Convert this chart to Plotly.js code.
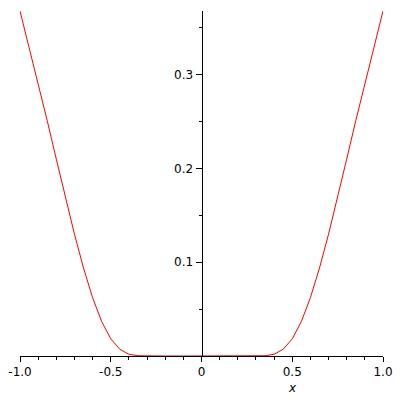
<!DOCTYPE html>
<html><head><meta charset="utf-8">
<script src="https://cdn.plot.ly/plotly-3.0.1.min.js"></script>
<style>html,body{margin:0;padding:0;background:#fff}#c{width:400px;height:400px}</style>
</head><body><div id="c"></div>
<script>
const xs = [-1.0,-0.95,-0.9,-0.85,-0.8,-0.75,-0.7,-0.65,-0.6,-0.55,-0.5,-0.45,-0.4,-0.35,-0.3,-0.25,-0.2,-0.1,0,
            0.1,0.2,0.25,0.3,0.35,0.4,0.45,0.5,0.55,0.6,0.65,0.7,0.75,0.8,0.85,0.9,0.95,1.0];
const right = [0,0,0,0.00002,0.0003,0.0019,0.0072,0.0183,0.0367,0.0622,0.0938,0.130,0.169,0.210,0.251,0.291,0.330,0.368];
const ys = right.slice().reverse().concat([0]).concat(right);
const xTickVals = [-1.0,-0.5,0,0.5,1.0];
const xTickText = ["-1.0","-0.5","0","0.5","1.0"];
const yTickVals = [0.1,0.2,0.3];
const yTickText = ["0.1","0.2","0.3"];
const font = {family:"DejaVu Sans", size:12, color:"#000"};
Plotly.newPlot("c", [{
  x: xs, y: ys, type:"scatter", mode:"lines",
  line:{color:"#ff0000", width:1}, hoverinfo:"skip"
}], {
  width:400, height:400,
  margin:{l:20, r:17, t:11, b:44},
  paper_bgcolor:"#fff", plot_bgcolor:"#fff",
  showlegend:false,
  font: font,
  xaxis:{range:[-1,1], showgrid:false, zeroline:false, showline:true, linecolor:"#000", linewidth:1,
    tickmode:"array", tickvals:xTickVals, ticktext:xTickText, ticks:"outside", ticklen:5, tickcolor:"#000",
    minor:{dtick:0.1, tick0:0, ticks:"outside", ticklen:3, tickcolor:"#000"},
    tickfont:font, fixedrange:true},
  yaxis:{range:[0,0.368], showgrid:false, zeroline:false, showline:true, linecolor:"#000", linewidth:1,
    anchor:"free", position:0.5,
    tickmode:"array", tickvals:yTickVals, ticktext:yTickText, ticks:"outside", ticklen:6, tickcolor:"#000",
    minor:{dtick:0.05, tick0:0, ticks:"outside", ticklen:3, tickcolor:"#000"},
    tickfont:font, fixedrange:true},
  annotations:[{x:0.5, xref:"x", y:-0.093, yref:"paper", text:"<i>x</i>", showarrow:false,
    font:{family:"DejaVu Sans", size:12, color:"#000"}, xanchor:"center", yanchor:"middle"}]
}, {displayModeBar:false, staticPlot:true});
</script></body></html>
